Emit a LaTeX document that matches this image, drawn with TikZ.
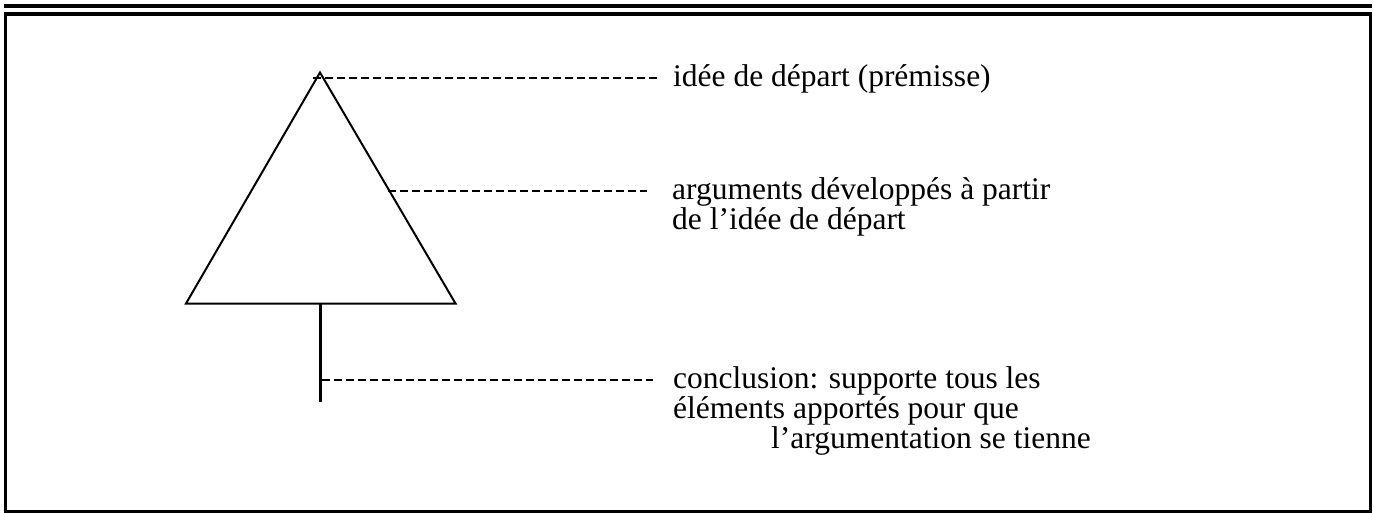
\documentclass[tikz,border=0pt]{standalone}
\usepackage{fontspec}
\setmainfont{Liberation Serif}
\begin{document}
\begin{tikzpicture}[x=1pt,y=-1pt,
  frameline/.style={line width=3.5pt},
  treeline/.style={line width=2pt, line join=miter},
  leader/.style={line width=1.6pt, dash pattern=on 8pt off 4pt},
  lbl/.style={anchor=base west, inner sep=0pt, font=\fontsize{31.5pt}{30pt}\selectfont}]
\useasboundingbox (0,0) rectangle (1374,514);
% frame
\draw[line width=4pt] (4,6) -- (1372,6);
\draw[frameline] (5.5,14) rectangle (1370.5,511.5);
% tree
\coordinate (A) at (320,72.5);
\coordinate (BL) at (186,303.5);
\coordinate (BR) at (455.5,303.5);
\coordinate (T0) at (320.5,303.5);
\coordinate (T1) at (320.5,402);
\draw[treeline] (A) -- (BR) -- (BL) -- cycle;
\draw[line width=2.5pt] (T0) -- (T1);
% labels
\node[lbl] (t1) at (673,86) {idée de départ (prémisse)};
\node[lbl] (t2a) at (672,199) {arguments développés à partir};
\node[lbl] (t2b) at (672,229.5) {de l’idée de départ};
\node[lbl] (t3a) at (673,388) {conclusion: supporte tous les};
\node[lbl] (t3b) at (673,418) {éléments apportés pour que};
\node[lbl] (t3c) at (771,448) {l’argumentation se tienne};
% leaders
\coordinate (s1) at (313,78);
\coordinate (e1) at (657,78);
\coordinate (s2) at (388,191);
\coordinate (e2) at (647,191);
\coordinate (s3) at (322,380);
\coordinate (e3) at (653,380);
\draw[leader] (s1) -- (e1);
\draw[leader] (s2) -- (e2);
\draw[leader] (s3) -- (e3);
\end{tikzpicture}
\end{document}
